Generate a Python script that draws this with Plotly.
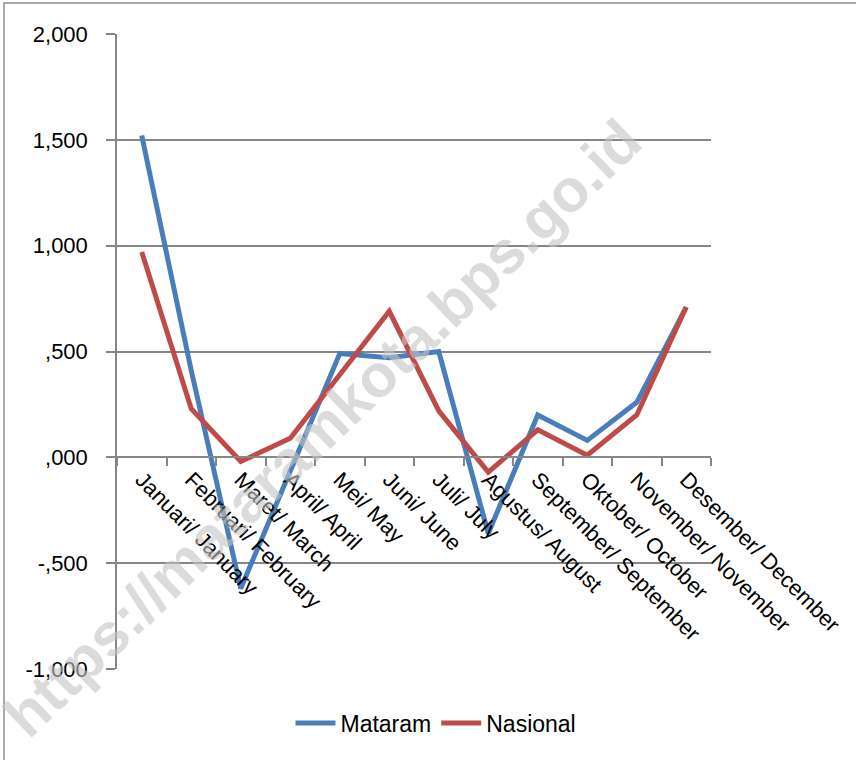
import plotly.graph_objects as go

months = ["Januari/ January", "Februari/ February", "Maret/ March", "April/ April",
          "Mei/ May", "Juni/ June", "Juli/ July", "Agustus/ August",
          "September/ September", "Oktober/ October", "November/ November",
          "Desember/ December"]
mataram = [1.52, 0.41, -0.62, -0.06, 0.49, 0.47, 0.50, -0.36, 0.20, 0.08, 0.26, 0.71]
nasional = [0.97, 0.23, -0.02, 0.09, 0.39, 0.69, 0.22, -0.07, 0.13, 0.01, 0.20, 0.71]
ytick_vals = [-1.0, -0.5, 0.0, 0.5, 1.0, 1.5, 2.0]
ytick_text = ["-1,000", "-,500", ",000", ",500", "1,000", "1,500", "2,000"]

FONT = "Liberation Sans, Arial, sans-serif"
GRID = "#868686"

fig = go.Figure()
fig.add_trace(go.Scatter(x=months, y=mataram, name="Mataram", mode="lines",
                         line=dict(color="#4a7ebb", width=5)))
fig.add_trace(go.Scatter(x=months, y=nasional, name="Nasional", mode="lines",
                         line=dict(color="#be4b48", width=5)))

fig.update_layout(
    width=856, height=760,
    margin=dict(l=117, r=145, t=34, b=91, autoexpand=False),
    paper_bgcolor="white", plot_bgcolor="white",
    font=dict(family=FONT, size=22, color="black"),
    showlegend=True,
    legend=dict(orientation="h", x=0.537, xanchor="center", y=-0.085, yanchor="middle",
                font=dict(size=23), itemwidth=40, bgcolor="rgba(0,0,0,0)"),
    xaxis=dict(type="category", range=[-0.5, 11.5], anchor="free", position=1/3,
               automargin=False,
               showgrid=False, showline=True, linecolor=GRID, linewidth=1.5,
               ticks="outside", tickson="boundaries", ticklen=8, tickcolor=GRID,
               tickwidth=1.5, tickangle=45, tickfont=dict(size=22)),
    yaxis=dict(range=[-1.0, 2.0], tickvals=ytick_vals, ticktext=ytick_text,
               automargin=False,
               showgrid=True, gridcolor=GRID, gridwidth=1.5, zeroline=False,
               showline=True, linecolor=GRID, linewidth=1.5,
               ticks="outside", ticklen=9, tickcolor=GRID, tickwidth=1.5,
               ticklabelstandoff=14, tickfont=dict(size=22)),
)

# outer chart border (extends beyond the visible window at right/bottom)
fig.add_shape(type="rect", xref="paper", yref="paper",
              x0=(4 - 117) / 594, x1=(870 - 117) / 594,
              y0=(669 - 775) / 635, y1=(669 - 3) / 635,
              line=dict(color="#8c8c8c", width=1.5), fillcolor="rgba(0,0,0,0)", layer="below")

# watermark
fig.add_annotation(text="<b>https://mataramkota.bps.go.id</b>", xref="paper", yref="paper",
                   x=(322 - 117) / 594, y=(669 - 428) / 635, xanchor="center", yanchor="middle",
                   showarrow=False, textangle=-44,
                   font=dict(family=FONT, size=60, color="rgba(195,195,195,0.6)"))

fig.write_html("out.html", config={"displayModeBar": False},
               post_script="document.body.style.margin='0px';document.body.style.overflow='hidden';")
